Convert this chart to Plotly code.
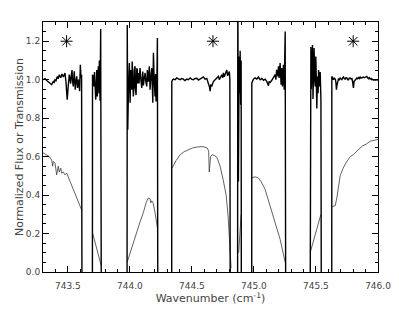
import plotly.graph_objects as go

# ---------------- data ----------------
# Normalized flux (thick line); None breaks the line inside saturated bands,
# -0.5 / 1.5 are off-scale values that get clipped by the axes.
flux_wn = [
    743.302, 743.316, 743.330, 743.340, 743.351, 743.360, 743.370, 743.377, 743.383, 743.389,
    743.397, 743.405, 743.415, 743.423, 743.431, 743.443, 743.453, 743.464, 743.469, 743.477,
    743.485, 743.491, 743.495, 743.503, 743.512, 743.518, 743.523, 743.528, 743.534, 743.539,
    743.544, 743.552, 743.560, 743.566, 743.572, 743.579, 743.587, 743.592, 743.595, 743.601,
    743.606, 743.611, 743.615, None,
    743.698, 743.699, 743.706, 743.711, 743.715, 743.719, 743.725, 743.729, 743.733, 743.738,
    743.742, 743.746, 743.752, 743.754, 743.760, 743.765, 743.771, None,
    743.977, 743.979, 743.983, 743.989, 743.996, 744.002, 744.007, 744.011, 744.015, 744.019,
    744.023, 744.028, 744.034, 744.036, 744.042, 744.044, 744.050, 744.056, 744.060, 744.064,
    744.072, 744.074, 744.082, 744.089, 744.096, 744.104, 744.109, 744.115, 744.123, 744.129,
    744.136, 744.141, 744.149, 744.157, 744.163, 744.170, 744.177, 744.185, 744.190, 744.195,
    744.203, 744.207, 744.211, 744.217, 744.222, 744.226, None,
    744.337, 744.338, 744.345, 744.351, 744.365, 744.378, 744.391, 744.405, 744.419, 744.431,
    744.444, 744.458, 744.471, 744.486, 744.500, 744.512, 744.526, 744.540, 744.553, 744.566,
    744.580, 744.593, 744.606, 744.620, 744.633, 744.641, 744.647, 744.652, 744.660, 744.667,
    744.673, 744.687, 744.701, 744.714, 744.721, 744.727, 744.741, 744.748, 744.754, 744.761,
    744.768, 744.774, 744.781, 744.788, 744.794, 744.802, 744.806, 744.810, None,
    744.868, 744.870, 744.875, 744.881, 744.885, 744.889, 744.893, 744.897, 744.899, None,
    744.982, 744.983, 744.996, 745.010, 745.023, 745.036, 745.050, 745.064, 745.077, 745.090,
    745.104, 745.112, 745.117, 745.123, 745.131, 745.144, 745.157, 745.171, 745.177, 745.183,
    745.193, 745.198, 745.203, 745.211, 745.219, 745.225, 745.230, 745.238, 745.244, 745.252,
    745.257, None,
    745.452, 745.453, 745.456, 745.459, 745.462, 745.467, 745.472, 745.476, 745.480, 745.485,
    745.490, 745.494, 745.499, 745.503, 745.507, 745.512, 745.517, 745.521, 745.525, 745.529,
    745.534, 745.540, 745.544, None,
    745.627, 745.628, 745.636, 745.641, 745.649, 745.657, 745.661, 745.665, 745.669, 745.673,
    745.681, 745.688, 745.695, 745.702, 745.709, 745.716, 745.722, 745.729, 745.735, 745.742,
    745.749, 745.756, 745.762, 745.769, 745.776, 745.783, 745.790, 745.795, 745.798, 745.802,
    745.807, 745.815, 745.822, 745.829, 745.836, 745.842, 745.849, 745.856, 745.863, 745.869,
    745.876, 745.883, 745.890, 745.897, 745.903, 745.910, 745.917, 745.923, 745.930, 745.937,
    745.944, 745.950, 745.957, 745.964, 745.970, 745.977, 745.984, 745.990, 746.000,
]
flux_val = [
    1.000, 1.005, 0.996, 0.990, 0.986, 0.980, 0.974, 0.985, 0.990, 0.983,
    1.000, 0.995, 1.017, 1.005, 1.026, 1.010, 1.030, 1.014, 1.025, 1.035,
    0.990, 0.930, 0.896, 0.965, 1.026, 1.000, 0.980, 1.020, 1.050, 0.990,
    0.965, 1.044, 0.948, 0.990, 1.017, 0.957, 1.000, 0.970, 0.940, 1.078,
    1.010, 1.026, -0.5, None,
    -0.5, 1.026, 1.017, 0.965, 1.040, 1.000, 0.896, 0.950, 1.050, 0.913,
    1.000, 1.070, 0.930, 1.100, 0.890, 1.264, -0.5, None,
    -0.5, 1.285, 0.740, 0.950, 1.087, 0.880, 1.050, 1.009, 0.948, 1.095,
    1.026, 0.913, 0.965, 1.050, 1.070, 0.965, 0.920, 1.060, 1.050, 0.980,
    1.035, 0.980, 1.060, 1.000, 0.957, 1.043, 0.970, 1.000, 1.035, 0.990,
    0.965, 1.050, 0.990, 1.070, 0.948, 1.020, 1.060, 0.880, 1.140, 1.017,
    0.913, 1.030, 0.887, 0.950, 1.217, -0.5, None,
    -0.5, 0.990, 1.000, 1.003, 1.000, 1.009, 1.004, 1.000, 1.006, 1.003,
    0.995, 1.003, 1.000, 1.009, 1.002, 1.000, 1.006, 1.007, 0.998, 1.003,
    1.008, 1.014, 1.003, 1.007, 0.980, 0.965, 0.940, 0.974, 0.965, 0.990,
    0.990, 1.000, 1.009, 1.017, 1.000, 1.009, 1.026, 1.010, 1.035, 1.015,
    1.026, 1.040, 1.050, 1.020, 1.035, 1.043, 1.000, -0.5, None,
    -0.5, 1.5, 0.470, 1.120, 0.930, 1.150, 0.870, 1.100, -0.5, None,
    -0.5, 0.983, 1.003, 1.009, 1.003, 1.014, 1.000, 1.007, 0.997, 1.003,
    0.991, 0.979, 0.969, 0.991, 0.986, 0.997, 1.009, 1.026, 1.000, 1.052,
    1.017, 1.070, 1.009, 1.087, 0.974, 1.060, 0.965, 1.078, 0.948, 1.250,
    -0.5, None,
    -0.5, 1.078, 0.500, 1.170, 0.950, 1.050, 1.180, 0.900, 1.017, 1.165,
    1.000, 0.965, 1.120, 0.950, 0.850, 1.017, 0.930, 1.050, 0.980, 0.965,
    1.040, 0.896, -0.5, None,
    -0.5, 1.017, 1.009, 1.000, 1.009, 1.000, 0.985, 0.948, 0.970, 0.990,
    1.003, 1.000, 1.009, 1.004, 1.000, 1.010, 1.014, 1.005, 1.003, 1.010,
    1.009, 1.000, 1.000, 1.008, 1.009, 1.004, 1.006, 0.990, 0.970, 0.957,
    0.990, 1.000, 1.005, 1.009, 1.005, 1.011, 1.006, 1.014, 1.008, 1.009,
    1.012, 1.014, 1.010, 1.012, 1.015, 1.017, 1.010, 1.005, 1.010, 1.003,
    1.006, 1.000, 1.002, 0.998, 1.000, 0.997, 1.000, 0.998, 1.000,
]

# Atmospheric transmission (thin line)
trans_wn = [
    743.300, 743.316, 743.330, 743.351, 743.362, 743.370, 743.378, 743.383, 743.397, 743.410,
    743.423, 743.431, 743.443, 743.451, 743.464, 743.477, 743.491, 743.512, 743.523, 743.544,
    743.572, 743.598, 743.606, 743.613, None,
    743.701, 743.735, 743.768, None,
    743.980, 744.002, 744.030, 744.056, 744.082, 744.109, 744.131, 744.149, 744.163, 744.169,
    744.177, 744.187, 744.203, 744.222, None,
    744.340, 744.373, 744.405, 744.437, 744.469, 744.505, 744.542, 744.590, 744.623, 744.635,
    744.640, 744.645, 744.651, 744.663, 744.683, 744.703, 744.727, 744.752, 744.776, 744.792,
    744.804, 744.816, None,
    744.877, 744.897, None,
    744.985, 745.010, 745.034, 745.058, 745.090, 745.119, 745.147, 745.179, 745.211, 745.235,
    745.252, None,
    745.453, 745.498, 745.540, None,
    745.631, 745.655, 745.667, 745.679, 745.695, 745.719, 745.744, 745.776, 745.800, 745.824,
    745.848, 745.873, 745.905, 745.937, 745.969, 746.000,
]
trans_val = [
    0.620, 0.615, 0.610, 0.600, 0.590, 0.580, 0.550, 0.575, 0.566, 0.505,
    0.550, 0.520, 0.540, 0.514, 0.520, 0.505, 0.514, 0.480, 0.460, 0.427,
    0.384, 0.340, 0.330, 0.320, None,
    0.200, 0.120, 0.036, None,
    0.054, 0.100, 0.150, 0.200, 0.260, 0.310, 0.360, 0.385, 0.380, 0.360,
    0.370, 0.360, 0.310, 0.230, None,
    0.540, 0.580, 0.610, 0.625, 0.635, 0.645, 0.650, 0.652, 0.645, 0.630,
    0.520, 0.600, 0.600, 0.610, 0.605, 0.595, 0.550, 0.480, 0.400, 0.290,
    0.170, 0.020, None,
    0.100, 0.300, None,
    0.490, 0.495, 0.490, 0.470, 0.430, 0.370, 0.310, 0.240, 0.170, 0.100,
    0.050, None,
    0.100, 0.200, 0.300, None,
    0.340, 0.345, 0.380, 0.430, 0.500, 0.540, 0.570, 0.600, 0.610, 0.625,
    0.640, 0.655, 0.665, 0.680, 0.685, 0.690,
]

# Asterisk markers above the flux
star_wn = [743.49, 744.67, 745.80]
star_val = [1.2, 1.2, 1.2]

x_ticks = [743.5, 744.0, 744.5, 745.0, 745.5, 746.0]
x_ticklabels = ["743.5", "744.0", "744.5", "745.0", "745.5", "746.0"]
y_ticks = [0.0, 0.2, 0.4, 0.6, 0.8, 1.0, 1.2]
y_ticklabels = ["0.0", "0.2", "0.4", "0.6", "0.8", "1.0", "1.2"]

# ---------------- figure ----------------
fig = go.Figure()
fig.add_trace(go.Scatter(x=trans_wn, y=trans_val, mode="lines",
                         line=dict(color="#3a3a3a", width=0.8), connectgaps=False,
                         showlegend=False, hoverinfo="skip"))
fig.add_trace(go.Scatter(x=flux_wn, y=flux_val, mode="lines",
                         line=dict(color="black", width=1.4), connectgaps=False,
                         showlegend=False))
fig.add_trace(go.Scatter(x=star_wn, y=star_val, mode="markers",
                         marker=dict(symbol="asterisk-open", size=10, color="black",
                                     line=dict(color="black", width=1)),
                         showlegend=False))

font_fam = "DejaVu Sans"
axis_common = dict(showline=True, linecolor="black", linewidth=1, mirror="allticks",
                   ticks="inside", ticklen=6, tickwidth=1, tickcolor="black",
                   showgrid=False, zeroline=False,
                   tickfont=dict(family=font_fam, size=9, color="#444444"))

fig.update_xaxes(range=[743.3, 746.0], tickmode="array", tickvals=x_ticks,
                 ticktext=x_ticklabels,
                 minor=dict(tickmode="linear", tick0=743.0, dtick=0.1, ticks="inside",
                            ticklen=3, tickcolor="black", showgrid=False),
                 title=dict(text="Wavenumber (cm<sup>-1</sup>)",
                            font=dict(family=font_fam, size=11, color="#444444"),
                            standoff=1),
                 ticklabelstandoff=5,
                 **axis_common)
fig.update_yaxes(range=[0, 1.3], tickmode="array", tickvals=y_ticks,
                 ticktext=y_ticklabels,
                 minor=dict(tickmode="linear", tick0=0, dtick=0.05, ticks="inside",
                            ticklen=3, tickcolor="black", showgrid=False),
                 title=dict(text="Normalized Flux or Transmission",
                            font=dict(family=font_fam, size=11, color="#444444"),
                            standoff=0),
                 **axis_common)

fig.update_layout(width=399, height=310,
                  margin=dict(l=43, r=21, t=22, b=38, autoexpand=False),
                  paper_bgcolor="white", plot_bgcolor="white")

fig.write_html("out.html",
               config={"displayModeBar": False},
               post_script="document.body.style.margin='0';document.body.style.overflow='hidden';")
